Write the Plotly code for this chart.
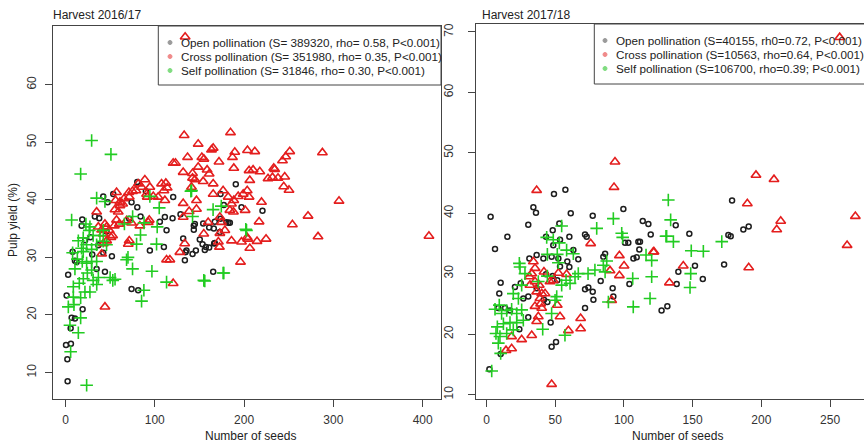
import plotly.graph_objects as go

W, H = 864, 443

# ---------------- Harvest 2016/17 ----------------
open1 = [(2.4,8.5),(2.1,12.3),(0.6,14.8),(6.1,15.0),(5.8,17.7),(6.9,19.5),(10.6,19.4),(19.2,21.0),(1.3,23.4),
         (10.6,29.4),(12.5,29.2),(34.9,28.0),(44.2,27.5),(74,24.5),(81.4,24.3),(18.8,36.6),(18.1,35.5),(32.9,37.1),
         (37.8,36.8),(42.3,40.6),(47.2,39.6),(53.5,41.0),(36.8,32.1),(42.3,30.8),(71.4,36.7),(80.4,43.1),(90,41.5),
         (74,39.6),(80.4,38.7),(84.1,37.1),(94.5,31.2),(111.3,37.0),(120.6,40.5),(105.7,36.2),(128.8,37.5),
         (110.2,31.8),(113.2,34.7),(133.7,29.5),(135.5,31.2),(143.7,35.5),(143.7,34.8),(142.3,30.6),(146,31.2),
         (154.2,35.9),(160.9,35.2),(153.5,32.3),(157.2,31.8),(160.9,31.7),(166.1,35.0),(166.5,32.4),(172.9,34.4),
         (173.6,36.7),(180.3,36.1),(184.1,36.0),(190.7,42.7),(197.1,38.7),(165.4,27.5),(173.6,41.0),(119.9,36.8),
         (131.8,33.3),(150.4,33.1),(167.2,36.2),(182.5,36.0),(177.3,39.1),(220.6,38.1),(167.2,32.5),(144.9,35.8),
         (156,31.3),(134.4,30.9),(22,33),(28,33.5),(30,30.5),(46,34.5),(52,30.2),(3,27),(8,31)]
cross1 = [(134,68.3),(132.9,51.2),(184.8,51.7),(148.6,49.7),(136.7,47.4),(152.7,47.4),(155,47.1),(163.5,48.7),
          (165.4,49.0),(189.6,48.3),(187,47.4),(120.6,46.4),(123.2,46.4),(131.8,44.8),(148.6,45.7),(158.6,45.2),
          (160.9,44.5),(142.3,44.6),(188.5,45.5),(171.9,46.6),(142.3,43.8),(144.9,43.5),(154.2,43.2),(141.1,42.2),
          (165.4,42.8),(88.9,43.5),(81.5,42.8),(85.2,42.2),(78.9,41.6),(75.1,41.5),(107.6,42.8),(112.4,42.9),
          (113.9,42.1),(110.2,41.6),(94.5,42.2),(90.8,41.0),(98.3,40.6),(91.6,40.5),(103.8,40.5),(111.3,39.9),
          (71,41.3),(71.4,40.5),(65.5,40.2),(57.2,41.3),(56.1,39.9),(61,39.6),(64,39.3),(61,39.0),(59.1,37.9),
          (55.4,38.3),(34.9,37.9),(44.2,35.8),(46.1,35.3),(49,34.7),(52.8,33.8),(54.7,35.5),(50.9,33.5),(46.1,32.9),
          (42.3,32.4),(36.8,35.3),(40.5,34.8),(42.3,34.1),(57.2,36.5),(60.3,35.8),(68.4,36.4),(74,36.0),(83.3,35.5),
          (93.8,36.5),(92.7,36.1),(71.4,32.9),(70.3,32.3),(131.8,39.4),(146.7,39.9),(146.7,38.4),(138.5,38.0),
          (131.8,37.0),(159.8,36.1),(154.9,34.1),(133.5,32.4),(128.1,30.9),(113.2,29.6),(116.9,29.6),(120.6,25.5),
          (44.2,21.4),(40.5,30.6),(185.9,32.9),(197.1,32.7),(172.9,34.2),(178.5,34.7),(171.2,32.7),(172.4,31.8),
          (196,29.2),(184.1,38.2),(185.9,39.3),(193.4,40.6),(199,41.0),(203.5,41.6),(203.8,48.6),(205.6,45.1),
          (206.4,43.4),(176.5,41.6),(165.4,41.0),(182.2,40.5),(188.5,39.9),(172.9,37.0),(174.7,36.1),(203.4,33.5),
          (212,48.4),(251.1,48.4),(287.7,48.2),(246.6,47.5),(243,46.8),(210.1,45.2),(217.6,44.9),(233.2,45.5),
          (234.3,45.3),(226.8,43.7),(231.8,43.9),(238,43.8),(245.5,44.0),(244.4,42.3),(250.3,41.7),(306.3,39.8),
          (219.5,39.6),(271.6,37.2),(216.8,36.2),(254.1,35.7),(282.8,33.6),(407,33.7),(206.4,31.6),(204.1,33.2),
          (214.5,32.8),(224.6,33.2),(205.6,40.5),(201.2,38.2),(188.1,37.9)]
self1 = [(29.3,50.3),(50.9,47.9),(17,44.5),(34.9,40.3),(44.2,39.7),(6.9,36.5),(22.9,35.8),(27.4,35.3),(75.2,37.1),
         (105,38.6),(94.5,40.6),(140.4,41.5),(165.3,38.3),(142.3,37.1),(102.7,35.3),(79.6,32.3),(102,32.3),
         (68.4,29.6),(75.1,28),(96.8,27.6),(50,26.5),(55.5,26.2),(53,26),(113.2,25.7),(87.8,24.3),(154.9,26),
         (176.5,27.3),(85.2,22.4),(202.7,34.7),(23.7,7.8),(5.8,13.6),(14.4,16.9),(17,19.5),(5,18.2),(3.2,21.4),
         (8.8,23.1),(8.8,24.9),(15.5,25.5),(20,26.3),(24.5,27.3),(29.3,27.8),(31,26),(36.8,26.5),(35,25.3),
         (10.6,28),(8,30.8),(18,31.6),(19.9,31),(23.7,32.2),(29.3,31.4),(34.9,32.2),(42.3,32.8),(46,32.2),
         (38.6,33.8),(42.3,34.7),(31,33.8),(26.6,34.7),(19.9,33.4),(14.4,32.9),(27.4,24),(21.8,24),(17,23),
         (9.5,21.8),(34.9,29.3),(29.3,29.3),(23.7,29),(18.8,29.3),(13.3,29.7),(141.2,41.6),(174.5,38.9),
         (201.9,34.9),(177.3,27.3),(156,25.9),(70,30),(84,33.9),(66,35.8),(88,36)]

# ---------------- Harvest 2017/18 ----------------
open2 = [(3.0,39.4),(6.2,34.1),(15.2,36.1),(34.1,41.0),(36,40.1),(30.4,38.1),(49.1,43.2),(57.4,43.9),(61.3,40.0),
         (77.3,39.6),(53,38.3),(48.2,37.2),(43.3,36.1),(60.3,36.1),(53.5,35.6),(48.6,34.7),(71.7,36.5),(72.9,36.1),
         (99.6,40.7),(113.7,38.7),(117.8,38.2),(119.5,36.5),(110.5,35.3),(111.7,35.3),(100.8,35.1),(103.2,35.1),
         (111.2,34.0),(106.9,32.5),(109.3,32.7),(86.3,33.3),(85,32.8),(66.8,32.4),(63.2,33.9),(58.8,32),(60.3,31.1),
         (41.4,32.5),(47.4,32.8),(52.3,32.5),(36.5,33.1),(31.2,32.5),(53.5,31.2),(51.5,28.9),(48.2,29.6),(43.3,29.9),
         (83.1,28.8),(71.7,27.4),(74.1,27.7),(77.3,27.0),(77.8,25.7),(91.8,27.6),(92.3,26.2),(104,28.3),(10.3,28.5),
         (9.3,26.7),(20.7,27.8),(24.9,28.4),(36.5,27.6),(26.8,25.9),(30.4,26.2),(13.5,24.3),(8.6,24.3),(17.1,23.9),
         (23.9,20.8),(30.4,22.8),(46.7,21.9),(47.4,17.9),(50.6,18.7),(44.3,25.3),(41.8,25.7),(71.7,24.3),(10.3,16.7),
         (2.1,14.2),(127.4,23.9),(131.6,24.6),(137.7,38.0),(147.6,36.6),(178.7,42.1),(176,36.4),(177.7,36.2),
         (186.9,37.3),(190.8,37.8),(172.9,31.5),(151.7,31.3),(139.6,30.3),(138.4,28.3),(157.4,29.1)]
cross2 = [(257,69.1),(93.5,48.5),(92.8,44.3),(36.5,43.8),(75.8,35.0),(96.7,33.0),(100.1,31.3),(121.4,33.6),
          (96.7,29.7),(89.9,30.5),(91.1,25.6),(34.1,32.0),(35.3,30.9),(32.9,30.0),(31.2,29.5),(35.3,28.7),(38.4,28.1),
          (31.6,28.1),(40.2,26.7),(42.6,26.7),(36.5,27.0),(38.9,25.9),(41.8,30.3),(46.2,28.7),(48.6,28.9),(52.3,30.1),
          (58.3,29.9),(51.5,24.8),(53.5,22.9),(37.7,22.9),(36.5,22.1),(32.9,19.8),(25.6,19.1),(18.3,19.6),(14.2,17.3),
          (18.3,17.6),(59.6,20.6),(68.5,22.6),(68.5,20.9),(47.4,11.7),(39.4,25.0),(35.3,24.6),(40.2,24.3),(133.1,28.5),
          (196.1,46.3),(209.2,45.6),(189.8,41.6),(214.1,38.7),(211.2,37.3),(268.4,39.5),(262.4,34.7),(190.8,31.0),
          (143.2,31.3),(121.9,33.6)]
self2 = [(3.8,13.9),(92.3,39.1),(80.2,37.5),(98.4,36.7),(99.1,36),(132.3,42.2),(131.1,36.2),(54.7,37.9),(43.8,36),
         (48.6,35.6),(53,35.1),(58.3,33.9),(63.2,33.3),(44.3,33.2),(51.5,33.2),(23.9,31.7),(24.4,31.1),(73.9,30),
         (78.9,30.6),(85,31.4),(86.3,30.3),(87.5,32.1),(106.4,29.2),(116.1,33.1),(120.2,32.2),(120.2,29.5),(119,25.9),
         (106.8,24.5),(40.9,20.8),(57.1,19.8),(47.4,23.4),(88.7,25.3),(134,38.9),(130.6,36.2),(136,35.3),(149,33.8),
         (157.8,33.7),(171.2,35.3),(148.6,30.0),(148.1,27.7),(6.2,24.1),(9.3,24.8),(11.0,23.4),(14.7,23.9),(18.3,24.1),
         (22.0,23.4),(25.6,24.0),(26.8,22.3),(22.0,21.9),(17.1,21.9),(12.3,21.7),(7.9,21.2),(6.9,20.1),(9.8,19.6),
         (14.7,20.1),(19.5,20.7),(8.6,18.5),(10.3,16.8),(23.2,25.9),(19.5,26.7),(25.6,28.1),(28.0,30.0),(37.7,28.7),
         (44.3,29.6),(51.1,26.2),(49.9,25.6),(57.9,28.9),(60.8,28.4),(54.7,28.1),(64.4,29.5),(66.8,30.0),(52.3,31.8)]

legend1 = ["Open pollination (S= 389320, rho= 0.58, P<0.001)",
           "Cross pollination (S= 351980, rho= 0.35, P<0.001)",
           "Self pollination (S= 31846, rho= 0.30, P<0.001)"]
legend2 = ["Open pollination (S=40155, rh0=0.72, P<0.001)",
           "Cross pollination (S=10563, rho=0.64, P<0.001)",
           "Self pollination (S=106700, rho=0.39; P<0.001)"]
legend_dot_colors = ["#9a9a9a", "#f08a8a", "#7fdc7f"]

FONT = "Liberation Sans, Arial, sans-serif"
BLACK = "#1e1e1e"
RED = "rgb(228,30,30)"
GREEN = "rgb(34,204,34)"

def xs(p): return [a for a, b in p]
def ys(p): return [b for a, b in p]

fig = go.Figure()

def add_panel(o, c, s, xa, ya):
    fig.add_trace(go.Scatter(x=xs(o), y=ys(o), mode="markers", xaxis=xa, yaxis=ya, showlegend=False,
                             marker=dict(symbol="circle-open", size=5, color=BLACK, line=dict(width=1.5, color=BLACK))))
    fig.add_trace(go.Scatter(x=xs(c), y=ys(c), mode="markers", xaxis=xa, yaxis=ya, showlegend=False,
                             marker=dict(symbol="triangle-up-open", size=8.5, color=RED, line=dict(width=1.6, color=RED))))
    fig.add_trace(go.Scatter(x=xs(s), y=ys(s), mode="markers", xaxis=xa, yaxis=ya, showlegend=False,
                             marker=dict(symbol="cross-thin-open", size=9, color=GREEN, line=dict(width=1.6, color=GREEN))))

add_panel(open1, cross1, self1, "x", "y")
add_panel(open2, cross2, self2, "x2", "y2")

def px(v): return v / W
def py(v): return 1 - v / H

axis_common = dict(showgrid=False, zeroline=False, showline=True, linecolor="#444", linewidth=1,
                   ticks="outside", ticklen=7, tickcolor="#444", tickwidth=1,
                   tickfont=dict(family=FONT, size=12, color="#333"))

fig.update_layout(
    width=W, height=H, margin=dict(l=0, r=0, t=0, b=0),
    paper_bgcolor="white", plot_bgcolor="white", showlegend=False,
    xaxis=dict(domain=[px(52.7), px(441)], range=[-14.3, 420.5], tickvals=[0, 100, 200, 300, 400],
               mirror=True, anchor="y", ticklabelstandoff=3, **axis_common),
    yaxis=dict(domain=[py(399), py(26)], range=[5.4, 70.2], tickvals=[10, 20, 30, 40, 50, 60],
               mirror=True, anchor="x", tickangle=-90, ticklabelstandoff=4, **axis_common),
    xaxis2=dict(domain=[px(475.5), 1.0], range=[-8.0, 274.7], tickvals=[0, 50, 100, 150, 200, 250],
                mirror=True, anchor="y2", ticklabelstandoff=3, **axis_common),
    yaxis2=dict(domain=[py(398.5), py(23.5)], range=[9.34, 71.4], tickvals=[10, 20, 30, 40, 50, 60, 70],
                mirror=False, anchor="x2", tickangle=-90, ticklabelstandoff=10, **axis_common),
)

ann = []
shapes = []
tf = dict(family=FONT, size=12, color="#222")
ann.append(dict(text="Harvest 2016/17", x=px(50.7), y=py(15), xref="paper", yref="paper",
                xanchor="left", yanchor="middle", showarrow=False, font=tf))
ann.append(dict(text="Harvest 2017/18", x=px(480), y=py(15), xref="paper", yref="paper",
                xanchor="left", yanchor="middle", showarrow=False, font=tf))
ann.append(dict(text="Number of seeds", x=px(250), y=py(436), xref="paper", yref="paper",
                xanchor="center", yanchor="middle", showarrow=False, font=tf))
ann.append(dict(text="Number of seeds", x=px(677.5), y=py(436), xref="paper", yref="paper",
                xanchor="center", yanchor="middle", showarrow=False, font=tf))
ann.append(dict(text="Pulp yield (%)", x=px(13), y=py(220), xref="paper", yref="paper", textangle=-90,
                xanchor="center", yanchor="middle", showarrow=False, font=tf))

lf = dict(family=FONT, size=11.7, color="#222")
for (bx0, bx1, by0, by1, dotx, textx, rows, labels) in [
        (158.3, 441, 26, 85, 170, 179, [42.5, 56.5, 70.5], legend1),
        (594.3, 875, 24, 84, 605, 614, [40.5, 54.5, 68.5], legend2)]:
    shapes.append(dict(type="rect", xref="paper", yref="paper", x0=px(bx0), x1=px(bx1), y0=py(by1), y1=py(by0),
                       line=dict(color="#444", width=1), fillcolor="rgba(0,0,0,0)", layer="above"))
    for r, lab, col in zip(rows, labels, legend_dot_colors):
        shapes.append(dict(type="circle", xref="paper", yref="paper", x0=px(dotx - 2), x1=px(dotx + 2),
                           y0=py(r + 2), y1=py(r - 2), line=dict(color=col, width=1), fillcolor=col))
        ann.append(dict(text=lab, x=px(textx), y=py(r), xref="paper", yref="paper", xanchor="left",
                        yanchor="middle", showarrow=False, font=lf))

fig.update_layout(annotations=ann, shapes=shapes)
fig.write_html("out.html")
